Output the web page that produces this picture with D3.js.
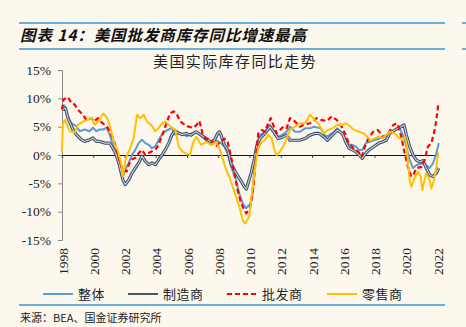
<!DOCTYPE html>
<html>
<head>
<meta charset="utf-8">
<script src="https://cdn.jsdelivr.net/npm/d3@7"></script>
<style>
  html, body { margin: 0; padding: 0; background: #fcf8ee; }
  svg { display: block; }
  .serif { font-family: "Liberation Serif", "DejaVu Serif", serif; }
  .cjk { font-family: "Noto Sans CJK SC", sans-serif; }
</style>
</head>
<body>
<div id="chart"></div>
<script>
// [year, yoy %]
const total = [
  [1998.04, 8.3], [1998.13, 8.8], [1998.38, 6.8], [1998.6, 5.6], [1998.92, 5.1], [1999.13, 4.2],
  [1999.45, 4.5], [1999.77, 4.2], [1999.98, 4.8], [2000.2, 4.2], [2000.41, 4.5], [2000.62, 4.5],
  [2000.84, 4.8], [2001.05, 3.6], [2001.26, 1.8], [2001.48, 0.7], [2001.69, -1.1], [2001.93, -3.7],
  [2002.05, -2.5], [2002.27, -1.4], [2002.48, 0], [2002.69, 0.9], [2002.91, 2.1], [2003.12, 2.7],
  [2003.33, 2.1], [2003.55, 1.8], [2003.76, 1.2], [2003.97, 1.5], [2004.19, 2.7], [2004.4, 3.6],
  [2004.61, 4.2], [2004.83, 4.5], [2005.04, 4.8], [2005.15, 3.6], [2005.36, 3.6], [2005.57, 3.9],
  [2005.79, 3.6], [2006.0, 3.3], [2006.26, 3.8], [2006.58, 4.1], [2006.9, 3.5], [2007.22, 2.6],
  [2007.54, 2.1], [2007.86, 2.6], [2008.18, 2.1], [2008.39, 1.5], [2008.6, 0.3], [2008.82, -2.1],
  [2009.14, -4.4], [2009.35, -6.8], [2009.56, -8.5], [2009.78, -9.4], [2009.99, -8.8], [2010.16, -7.9],
  [2010.29, -3.0], [2010.46, 2.1], [2010.67, 3.5], [2010.99, 4.1], [2011.31, 5.3], [2011.52, 4.4],
  [2011.74, 3.2], [2012.06, 3.5], [2012.38, 4.1], [2012.59, 5.0], [2012.91, 4.1], [2013.23, 4.1],
  [2013.55, 4.7], [2013.87, 4.7], [2014.13, 5.0], [2014.56, 4.7], [2014.88, 3.2], [2015.15, 3.6],
  [2015.41, 4.1], [2015.62, 4.7], [2015.84, 4.1], [2016.16, 2.6], [2016.37, 1.8], [2016.58, 1.8],
  [2016.8, 1.5], [2017.01, 0.9], [2017.22, 0.9], [2017.44, 2.1], [2017.65, 2.3], [2017.97, 2.6],
  [2018.29, 2.9], [2018.65, 3.2], [2018.97, 3.8], [2019.29, 4.4], [2019.61, 4.7], [2019.82, 3.5],
  [2020.04, 1.5], [2020.25, -0.9], [2020.46, -2.3], [2020.68, -1.8], [2020.89, -1.6], [2021.1, -1.5],
  [2021.31, -1.8], [2021.53, -2.3], [2021.74, -1.5], [2021.96, 0.3], [2022.11, 2.1]
];
const manufacturing = [
  [1998.04, 8.0], [1998.22, 8.3], [1998.38, 6.5], [1998.7, 4.5], [1998.92, 3.6], [1999.24, 2.7],
  [1999.45, 2.4], [1999.77, 2.7], [1999.98, 3.0], [2000.2, 2.4], [2000.41, 2.4], [2000.73, 2.1],
  [2001.05, 2.1], [2001.26, 1.2], [2001.48, 0], [2001.69, -2.0], [2001.9, -4.4], [2002.05, -5.2],
  [2002.27, -4.4], [2002.48, -3.2], [2002.69, -2.3], [2002.91, -1.4], [2003.12, -0.2], [2003.33, -1.1],
  [2003.55, -1.7], [2003.76, -1.4], [2003.97, -1.7], [2004.19, -0.8], [2004.4, 0], [2004.61, 0.9],
  [2004.83, 2.1], [2005.04, 3.6], [2005.25, 4.2], [2005.47, 3.9], [2005.68, 3.6], [2005.94, 3.8],
  [2006.26, 3.5], [2006.58, 4.1], [2006.9, 3.5], [2007.22, 2.9], [2007.54, 2.3], [2007.75, 2.6],
  [2007.96, 3.8], [2008.07, 4.1], [2008.18, 3.5], [2008.39, 1.8], [2008.6, 0.9], [2008.82, -1.5],
  [2009.14, -3.2], [2009.46, -4.6], [2009.67, -5.6], [2009.8, -6.0], [2010.1, -3.2], [2010.29, -1.0],
  [2010.46, 1.5], [2010.67, 2.9], [2010.99, 3.8], [2011.31, 5.0], [2011.52, 4.2], [2011.84, 2.9],
  [2012.08, 3.1], [2012.38, 3.5], [2012.59, 2.6], [2012.91, 2.6], [2013.23, 2.6], [2013.55, 2.9],
  [2013.87, 3.5], [2014.19, 3.8], [2014.45, 3.8], [2014.77, 3.2], [2014.98, 2.6], [2015.3, 3.5],
  [2015.62, 4.4], [2015.94, 3.8], [2016.16, 2.3], [2016.37, 1.2], [2016.58, 0.9], [2016.8, 0.6],
  [2017.01, 0], [2017.22, -0.6], [2017.44, 0.3], [2017.65, 0.9], [2017.97, 1.5], [2018.29, 2.1],
  [2018.5, 2.3], [2018.75, 2.6], [2018.97, 3.8], [2019.29, 4.4], [2019.5, 4.7], [2019.72, 5.0],
  [2019.89, 5.3], [2020.04, 3.5], [2020.25, 1.5], [2020.46, 0], [2020.68, -0.9], [2020.89, -1.2],
  [2021.1, -1.0], [2021.31, -2.3], [2021.53, -3.5], [2021.74, -3.8], [2021.96, -3.2], [2022.11, -2.3]
];
const wholesale = [
  [1998.0, 8.0], [1998.1, 9.8], [1998.38, 10.2], [1998.6, 9.2], [1998.81, 8.9], [1999.02, 8.0],
  [1999.34, 7.1], [1999.56, 6.2], [1999.88, 6.5], [2000.05, 5.9], [2000.3, 6.5], [2000.48, 5.9],
  [2000.73, 5.3], [2000.94, 4.8], [2001.26, 3.0], [2001.48, 1.2], [2001.69, -1.1], [2001.9, -2.8],
  [2002.14, -2.9], [2002.27, -1.7], [2002.48, -0.8], [2002.69, -0.5], [2002.91, 0.35], [2003.12, 0.9],
  [2003.33, 0], [2003.55, 0.35], [2003.76, 0.65], [2003.97, 0.9], [2004.19, 1.8], [2004.34, 3.0],
  [2004.51, 4.2], [2004.72, 5.9], [2004.93, 7.4], [2005.15, 7.7], [2005.36, 7.1], [2005.57, 5.9],
  [2005.78, 5.5], [2006.08, 5.0], [2006.4, 4.8], [2006.62, 5.3], [2006.79, 6.0], [2007.0, 3.8],
  [2007.22, 2.9], [2007.54, 2.6], [2007.86, 1.5], [2008.07, 2.1], [2008.39, 2.9], [2008.6, 2.3],
  [2008.82, -0.3], [2009.03, -3.2], [2009.24, -6.2], [2009.46, -8.5], [2009.67, -9.7], [2009.8, -10.3],
  [2010.03, -9.4], [2010.24, -5.9], [2010.42, 0], [2010.56, 3.8], [2010.78, 4.4], [2010.99, 4.1],
  [2011.2, 5.6], [2011.36, 6.5], [2011.52, 5.3], [2011.74, 3.8], [2011.95, 4.4], [2012.16, 5.0],
  [2012.38, 4.7], [2012.59, 6.5], [2012.8, 6.2], [2013.02, 5.6], [2013.23, 5.0], [2013.44, 5.3],
  [2013.87, 5.6], [2014.3, 6.5], [2014.58, 6.2], [2014.94, 6.0], [2015.26, 6.8], [2015.58, 6.2],
  [2015.9, 5.0], [2016.11, 3.8], [2016.32, 2.3], [2016.64, 1.2], [2016.96, 0.6], [2017.18, -0.3],
  [2017.39, 1.5], [2017.6, 2.9], [2017.92, 4.1], [2018.22, 4.4], [2018.56, 3.2], [2018.88, 3.8],
  [2019.2, 5.3], [2019.42, 5.6], [2019.5, 5.3], [2019.72, 3.2], [2019.93, 0.3], [2020.14, -2.1],
  [2020.36, -3.8], [2020.49, -3.5], [2020.68, -2.3], [2021.0, -2.1], [2021.21, -0.9], [2021.42, 1.5],
  [2021.64, 2.1], [2021.85, 4.4], [2021.96, 6.2], [2022.08, 8.9]
];
const retail = [
  [1998.0, 0.5], [1998.06, 5.5], [1998.19, 6.2], [1998.49, 4.2], [1998.81, 4.0], [1999.02, 5.3],
  [1999.34, 5.9], [1999.66, 6.2], [1999.88, 6.6], [2000.09, 5.3], [2000.41, 6.2], [2000.62, 7.3],
  [2000.84, 6.8], [2001.05, 5.3], [2001.37, 1.8], [2001.58, 0.7], [2001.8, -1.7], [2001.9, -3.8],
  [2002.05, -1.0], [2002.16, 0], [2002.37, 1.2], [2002.59, 3.0], [2002.8, 7.1], [2003.01, 6.5],
  [2003.23, 7.1], [2003.44, 5.9], [2003.76, 5.1], [2003.97, 4.2], [2004.19, 4.8], [2004.4, 5.6],
  [2004.61, 5.9], [2004.83, 5.3], [2005.04, 4.8], [2005.25, 4.5], [2005.47, 1.5], [2005.68, 0.7],
  [2005.94, 0.3], [2006.19, 0], [2006.38, 2.1], [2006.58, 3.2], [2006.9, 1.8], [2007.22, 2.3],
  [2007.54, 1.8], [2007.86, 2.3], [2008.07, 1.2], [2008.28, -0.6], [2008.5, -2.6], [2008.71, -3.8],
  [2008.92, -5.6], [2009.14, -7.4], [2009.35, -9.1], [2009.56, -11.5], [2009.71, -12.1], [2009.99, -10.9],
  [2010.14, -7.1], [2010.35, -2.3], [2010.56, 1.2], [2010.78, 2.3], [2010.99, 2.7], [2011.2, 3.5],
  [2011.42, 2.9], [2011.63, 0.6], [2011.74, 0], [2011.95, 0.6], [2012.16, 1.5], [2012.38, 2.9],
  [2012.59, 4.4], [2012.91, 5.0], [2013.23, 5.6], [2013.55, 5.6], [2013.76, 6.5], [2013.87, 7.1],
  [2014.08, 6.5], [2014.45, 5.3], [2014.77, 3.8], [2015.02, 4.4], [2015.3, 4.7], [2015.62, 5.3],
  [2015.94, 5.3], [2016.16, 5.6], [2016.37, 5.2], [2016.69, 4.4], [2017.01, 4.1], [2017.33, 3.8],
  [2017.54, 3.2], [2017.76, 2.6], [2017.97, 2.9], [2018.22, 3.2], [2018.54, 3.0], [2018.97, 4.1],
  [2019.29, 3.8], [2019.61, 2.9], [2019.82, 2.6], [2019.93, 3.2], [2020.04, 2.1], [2020.14, -1.5],
  [2020.25, -4.4], [2020.36, -5.6], [2020.57, -4.1], [2020.78, -2.9], [2020.96, -3.8], [2021.06, -6.2],
  [2021.21, -4.4], [2021.31, -3.2], [2021.53, -4.4], [2021.64, -5.9], [2021.81, -4.4], [2021.96, -2.1],
  [2022.07, 0.5]
];

const yearTicks = ["1998", "2000", "2002", "2004", "2006", "2008", "2010", "2012", "2014", "2016", "2018", "2020", "2022"];
const pctTicks = [-15, -10, -5, 0, 5, 10, 15];
const seriesNames = ["整体", "制造商", "批发商", "零售商"];

const W = 466, H = 327;
const svg = d3.select("#chart").append("svg")
  .attr("width", W)
  .attr("height", H)
  .style("background", "#fcf8ee");

// header and footer
const rule = "#3a9ad9";
[[19, 445, 23], [19, 445, 49], [462, 466, 23], [462, 466, 49], [19, 445, 305]].forEach(d => {
  svg.append("line").attr("x1", d[0]).attr("x2", d[1]).attr("y1", d[2]).attr("y2", d[2])
    .attr("stroke", rule).attr("stroke-width", 1.5);
});
svg.append("text").attr("class", "cjk")
  .attr("x", 20).attr("y", 41)
  .attr("font-size", 15.5).attr("font-weight", "bold").attr("font-style", "italic")
  .attr("letter-spacing", 0.9).attr("fill", "#111")
  .text("图表 14：美国批发商库存同比增速最高");
svg.append("text").attr("class", "cjk")
  .attr("x", 20).attr("y", 322)
  .attr("font-size", 11).attr("fill", "#222")
  .text("来源：BEA、国金证券研究所");

// chart title
svg.append("text").attr("class", "cjk")
  .attr("x", 235).attr("y", 67)
  .attr("text-anchor", "middle")
  .attr("font-size", 15).attr("letter-spacing", 1.4).attr("fill", "#222")
  .text("美国实际库存同比走势");

const x = d3.scaleLinear().domain([1998, 2022]).range([62, 437]);
const y = d3.scaleLinear().domain([-15, 15]).range([240, 70]);

// y axis
const yAxis = svg.append("g")
  .attr("transform", `translate(${x(1998)},0)`)
  .call(d3.axisLeft(y).tickValues(pctTicks).tickSize(4).tickPadding(7).tickFormat(d => d + "%"));
yAxis.select(".domain").attr("stroke", "#888");
yAxis.selectAll(".tick line").attr("stroke", "#888");
yAxis.selectAll("text").attr("class", "serif").attr("font-size", 13.5).attr("fill", "#222");

// x axis on zero
const xAxis = svg.append("g")
  .attr("transform", `translate(0,${y(0)})`)
  .call(d3.axisBottom(x).tickValues(yearTicks.map(Number)).tickSize(3).tickFormat(""));
xAxis.select(".domain").attr("stroke", "#111").attr("stroke-width", 1.2);
xAxis.selectAll(".tick line").attr("stroke", "#444");

svg.append("g").selectAll("text").data(yearTicks).enter()
  .append("text")
  .attr("class", "serif")
  .attr("transform", d => `translate(${x(+d) + 1},248) rotate(-90)`)
  .attr("text-anchor", "end")
  .attr("dy", "0.35em")
  .attr("font-size", 13.5).attr("fill", "#222")
  .text(d => d);

const line = d3.line()
  .x(d => x(d[0]))
  .y(d => y(d[1]));

const plot = svg.append("g").attr("fill", "none").attr("stroke-linejoin", "round");

plot.append("path").attr("d", line(total))
  .attr("stroke", "#5b9bd5").attr("stroke-width", 2);
plot.append("path").attr("d", line(manufacturing))
  .attr("stroke", "#3d4f66").attr("stroke-width", 3.2);
plot.append("path").attr("d", line(manufacturing))
  .attr("stroke", "#c9d2de").attr("stroke-width", 1.1);
plot.append("path").attr("d", line(wholesale))
  .attr("stroke", "#ff0000").attr("stroke-width", 2.2).attr("stroke-dasharray", "5,3");
plot.append("path").attr("d", line(retail))
  .attr("stroke", "#ffc000").attr("stroke-width", 2);

// legend
const legendStyle = [
  { x: 43, stroke: "#5b9bd5", dash: null, w: 2 },
  { x: 128, stroke: "#4a5768", dash: null, w: 2 },
  { x: 227, stroke: "#ff0000", dash: "5,3", w: 2.2 },
  { x: 327, stroke: "#ffc000", dash: null, w: 2 }
];
const legend = svg.append("g").selectAll("g").data(seriesNames).enter()
  .append("g")
  .attr("transform", (d, i) => `translate(${legendStyle[i].x},294)`);
legend.append("line")
  .attr("x1", 0).attr("x2", 30).attr("y1", 0).attr("y2", 0)
  .attr("stroke", (d, i) => legendStyle[i].stroke)
  .attr("stroke-width", (d, i) => legendStyle[i].w)
  .attr("stroke-dasharray", (d, i) => legendStyle[i].dash);
legend.append("text").attr("class", "cjk")
  .attr("x", 35).attr("y", 0).attr("dy", "0.35em")
  .attr("font-size", 13).attr("letter-spacing", 0.5).attr("fill", "#222")
  .text(d => d);
</script>
</body>
</html>
